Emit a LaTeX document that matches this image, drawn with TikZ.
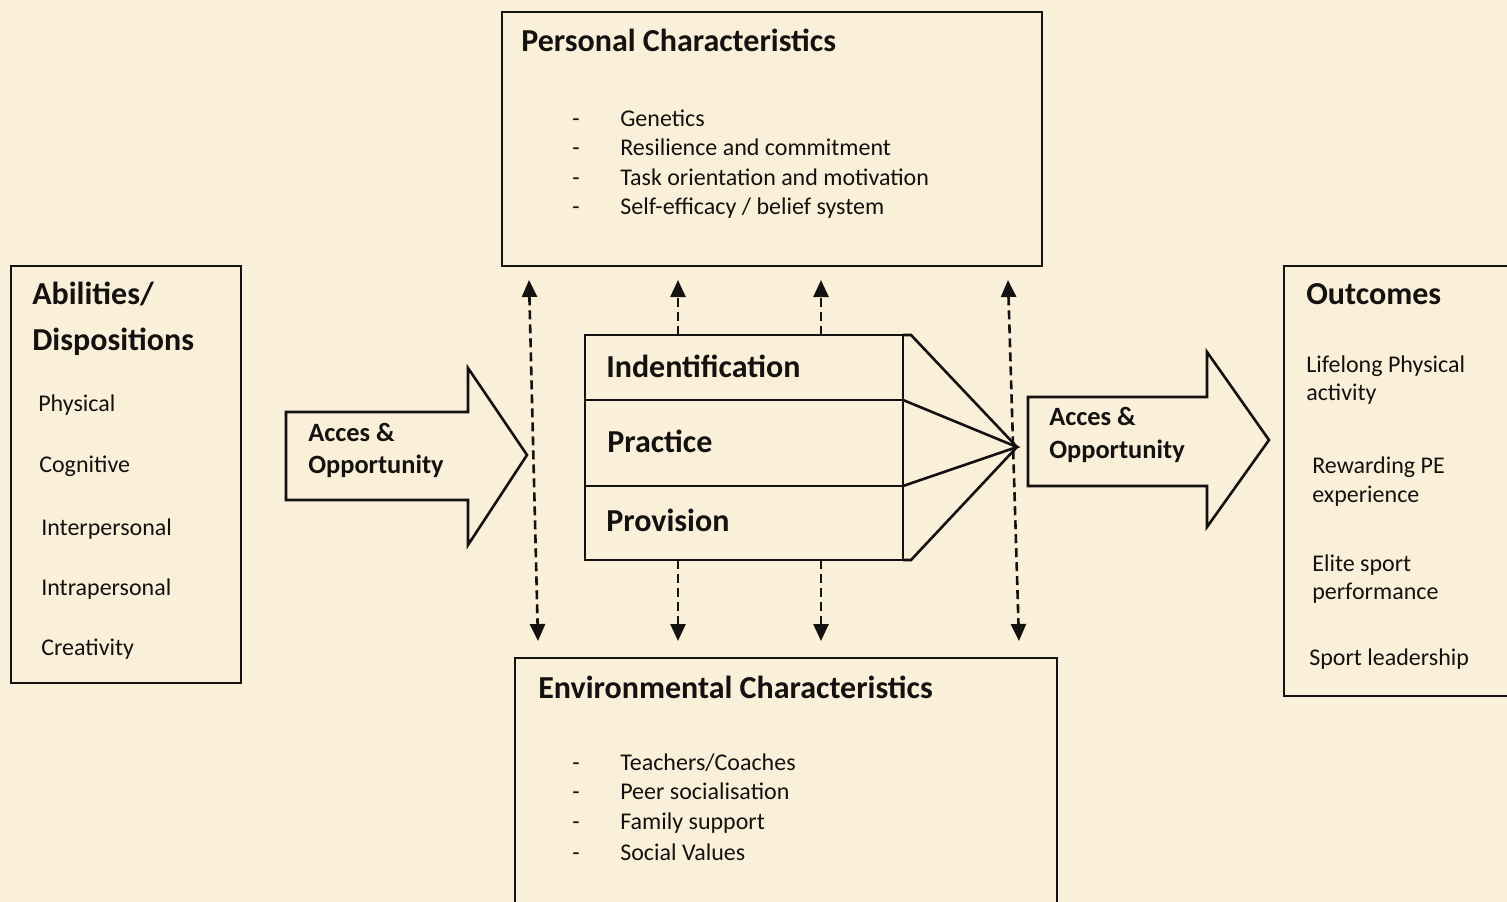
\documentclass[tikz,border=0pt]{standalone}
\usepackage{fontspec}
\setmainfont{Carlito}
\usetikzlibrary{arrows.meta}
\definecolor{bg}{RGB}{250,239,217}
\definecolor{ink}{RGB}{20,18,16}
\begin{document}
\begin{tikzpicture}[x=1pt,y=-1pt,
  line width=2.6pt, draw=ink,
  box/.style={draw=ink, line width=2.6pt, inner sep=0pt, outer sep=0pt},
  ttl/.style={anchor=base west, inner sep=0pt, text=ink, font=\fontsize{32}{36}\selectfont\bfseries},
  big/.style={anchor=base west, inner sep=0pt, text=ink, font=\fontsize{32}{36}\selectfont\bfseries},
  acc/.style={anchor=base west, inner sep=0pt, text=ink, font=\fontsize{26.4}{30}\selectfont\bfseries},
  itm/.style={anchor=base west, inner sep=0pt, text=ink, font=\fontsize{24}{28}\selectfont},
  dasharrow/.style={draw=ink, line width=2.6pt, dash pattern=on 9pt off 5pt,
     arrows={-Triangle[width=15pt,length=17pt]}},
  dashboth/.style={draw=ink, line width=2.6pt, dash pattern=on 9pt off 5pt,
     arrows={Triangle[width=15pt,length=17pt]-Triangle[width=15pt,length=17pt]}},
  bigarrow/.style={draw=ink, line width=2.6pt, line join=miter}
]
\fill[bg] (0,0) rectangle (1507,902);
\useasboundingbox (0,0) rectangle (1507,902);

% boxes
\node[box, minimum width=540pt, minimum height=254pt] (pers) at (772,139) {};
\node[box, minimum width=230pt, minimum height=417pt] (abil) at (126,474.5) {};
\node[box, minimum width=318pt, minimum height=225pt] (cent) at (744,447.5) {};
\node[box, minimum width=542pt, minimum height=260pt] (env) at (786,788) {};
\node[box, minimum width=240pt, minimum height=430pt] (outc) at (1404,481) {};

% centre dividers and fan
\coordinate (d1) at (0,400);
\coordinate (d2) at (0,486);
\coordinate (tip) at (1017,447);
\draw (cent.west |- d1) -- (cent.east |- d1);
\draw (cent.west |- d2) -- (cent.east |- d2);
\draw[line join=miter] (cent.north east) -- ([xshift=8pt]cent.north east) -- (tip) -- ([xshift=8pt]cent.south east) -- (cent.south east);
\draw (cent.east |- d1) -- (tip) -- (cent.east |- d2);

% big arrows
\draw[bigarrow] (286,412) -- (468,412) -- (468,368) -- (527,455) -- (468,545) -- (468,500) -- (286,500) -- cycle;
\draw[bigarrow] (1028,397) -- (1207,397) -- (1207,352) -- (1269,440) -- (1207,527) -- (1207,486) -- (1028,486) -- cycle;

% dashed connectors
\coordinate (lt) at (529,280);
\coordinate (lb) at (538,641);
\coordinate (rt) at (1008,280);
\coordinate (rb) at (1019,641);
\coordinate (t1) at (678,280);
\coordinate (t2) at (821,280);
\coordinate (b1) at (678,641);
\coordinate (b2) at (821,641);
\draw[dashboth] (lt) -- (lb);
\draw[dashboth] (rt) -- (rb);
\draw[dasharrow] (t1 |- cent.north) -- (t1);
\draw[dasharrow] (t2 |- cent.north) -- (t2);
\draw[dasharrow] (b1 |- cent.south) -- (b1);
\draw[dasharrow] (b2 |- cent.south) -- (b2);

% personal texts
\node[ttl] (perst) at (520,51) {Personal Characteristics};
\node[itm] (p1d) at (571,126) {-};
\node[itm] (p1) at (619,126) {Genetics};
\node[itm] (p2d) at (571,155) {-};
\node[itm] (p2) at (619,155) {Resilience and commitment};
\node[itm] (p3d) at (571,185) {-};
\node[itm] (p3) at (619,185) {Task orientation and motivation};
\node[itm] (p4d) at (571,214) {-};
\node[itm] (p4) at (619,214) {Self-efficacy / belief system};

% abilities texts
\node[ttl] (ab1) at (31,304) {Abilities/};
\node[ttl] (ab2) at (31,350) {Dispositions};
\node[itm] (a1) at (37,411) {Physical};
\node[itm] (a2) at (38,472) {Cognitive};
\node[itm] (a3) at (40,535) {Interpersonal};
\node[itm] (a4) at (40,595) {Intrapersonal};
\node[itm] (a5) at (40,655) {Creativity};

% arrow texts
\node[acc] (la1) at (307,441) {Acces \&};
\node[acc] (la2) at (307,473) {Opportunity};
\node[acc] (ra1) at (1048,425) {Acces \&};
\node[acc] (ra2) at (1048,458) {Opportunity};

% centre texts
\node[big] (c1) at (605,377) {Indentification};
\node[big] (c2) at (606,452) {Practice};
\node[big] (c3) at (605,531) {Provision};

% environmental texts
\node[ttl] (envt) at (537,698) {Environmental Characteristics};
\node[itm] (e1d) at (571,770) {-};
\node[itm] (e1) at (619,770) {Teachers/Coaches};
\node[itm] (e2d) at (571,799) {-};
\node[itm] (e2) at (619,799) {Peer socialisation};
\node[itm] (e3d) at (571,829) {-};
\node[itm] (e3) at (619,829) {Family support};
\node[itm] (e4d) at (571,860) {-};
\node[itm] (e4) at (619,860) {Social Values};

% outcomes texts
\node[ttl] (outt) at (1305,304) {Outcomes};
\node[itm] (o1) at (1305,372) {Lifelong Physical};
\node[itm] (o1b) at (1305,400) {activity};
\node[itm] (o2) at (1311,473) {Rewarding PE};
\node[itm] (o2b) at (1311,502) {experience};
\node[itm] (o3) at (1311,571) {Elite sport};
\node[itm] (o3b) at (1311,599) {performance};
\node[itm] (o4) at (1308,665) {Sport leadership};
\end{tikzpicture}
\end{document}
